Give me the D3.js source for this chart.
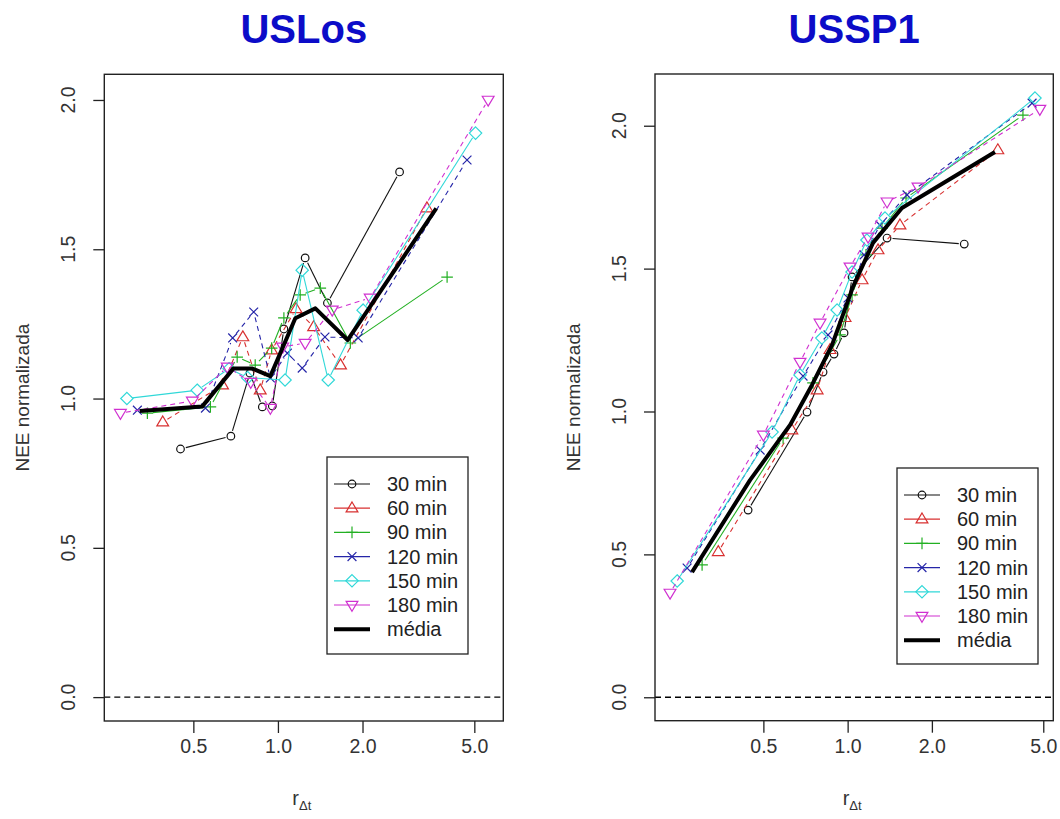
<!DOCTYPE html>
<html><head><meta charset="utf-8">
<script src="https://cdn.jsdelivr.net/npm/d3@7"></script>
<style>body{margin:0;background:#fff}svg{font-family:"Liberation Sans",Arial,sans-serif}</style>
</head><body><svg id="c" width="1060" height="819"></svg>
<script>
// ---------- labels / ticks ----------
const seriesLabels = ["30 min","60 min","90 min","120 min","150 min","180 min"];
const meanLabel = "média";
const panelTitles = ["USLos","USSP1"];
const yAxisTitle = "NEE normalizada";
const xTicks = [0.5, 1, 2, 5];
const xTickLabels = ["0.5","1.0","2.0","5.0"];
const yTicks = [0, 0.5, 1, 1.5, 2];
const yTickLabels = ["0.0","0.5","1.0","1.5","2.0"];

// ---------- USLos data ----------
const uslos_r30  = [0.45, 0.68, 0.795, 0.88, 0.955, 1.05, 1.25, 1.50, 2.71];
const uslos_n30  = [0.831, 0.874, 1.085, 0.972, 0.975, 1.233, 1.471, 1.32, 1.759];
const uslos_r60  = [0.389, 0.635, 0.75, 0.865, 0.95, 1.16, 1.34, 1.67, 3.39];
const uslos_n60  = [0.921, 1.045, 1.206, 1.028, 1.162, 1.30, 1.24, 1.112, 1.638];
const uslos_r90  = [0.343, 0.575, 0.716, 0.83, 0.95, 1.05, 1.20, 1.415, 1.81, 4.0];
const uslos_n90  = [0.951, 0.972, 1.139, 1.112, 1.169, 1.27, 1.347, 1.37, 1.186, 1.407];
const uslos_r120 = [0.316, 0.552, 0.69, 0.82, 0.94, 1.08, 1.22, 1.47, 1.93, 4.71];
const uslos_n120 = [0.961, 0.968, 1.203, 1.29, 1.069, 1.152, 1.102, 1.206, 1.203, 1.799];
const uslos_r150 = [0.29, 0.516, 0.67, 0.78, 1.06, 1.22, 1.51, 2.01, 5.05];
const uslos_n150 = [1.0, 1.028, 1.10, 1.07, 1.062, 1.43, 1.062, 1.296, 1.889];
const uslos_r180 = [0.275, 0.496, 0.66, 0.80, 0.94, 1.04, 1.25, 1.56, 2.13, 5.6];
const uslos_n180 = [0.951, 0.992, 1.106, 1.055, 0.968, 1.173, 1.186, 1.297, 1.337, 2.0];
const uslos_rMean = [0.322, 0.537, 0.695, 0.809, 0.94, 1.153, 1.359, 1.77, 3.66];
const uslos_nMean = [0.958, 0.973, 1.101, 1.101, 1.075, 1.269, 1.302, 1.196, 1.637];

// ---------- USSP1 data ----------
const ussp_r30  = [0.441, 0.716, 0.817, 0.894, 0.971, 1.037, 1.383, 2.61];
const ussp_n30  = [0.655, 0.998, 1.138, 1.201, 1.275, 1.471, 1.607, 1.586];
const ussp_r60  = [0.345, 0.632, 0.778, 0.865, 0.979, 1.126, 1.284, 1.538, 3.44];
const ussp_n60  = [0.509, 0.935, 1.075, 1.216, 1.328, 1.46, 1.565, 1.652, 1.915];
const ussp_r90  = [0.302, 0.588, 0.752, 0.939, 1.037, 1.163, 1.327, 1.617, 4.23];
const ussp_n90  = [0.463, 0.907, 1.10, 1.268, 1.408, 1.548, 1.642, 1.747, 2.037];
const ussp_r120 = [0.267, 0.487, 0.693, 0.851, 1.003, 1.145, 1.305, 1.63, 4.56];
const ussp_n120 = [0.452, 0.865, 1.124, 1.268, 1.397, 1.548, 1.652, 1.758, 2.079];
const ussp_r150 = [0.246, 0.537, 0.676, 0.809, 0.917, 1.037, 1.172, 1.36, 4.67];
const ussp_n150 = [0.407, 0.928, 1.128, 1.257, 1.355, 1.488, 1.60, 1.677, 2.097];
const ussp_r180 = [0.232, 0.50, 0.676, 0.797, 1.02, 1.183, 1.383, 1.784, 4.86];
const ussp_n180 = [0.365, 0.918, 1.173, 1.31, 1.506, 1.611, 1.734, 1.786, 2.058];
const ussp_rMean = [0.278, 0.448, 0.623, 0.746, 0.88, 1.045, 1.232, 1.563, 3.36];
const ussp_nMean = [0.438, 0.760, 0.953, 1.093, 1.233, 1.436, 1.590, 1.712, 1.908];

// ---------- styles ----------
const seriesColors = ["#111111", "#d83030", "#22b022", "#2525a8", "#30d8d8", "#d030d0"];
const seriesDash = [null, "5,4", null, "5,4", null, "5,4"];
const seriesSymbols = ["circle", "triUp", "plus", "cross", "diamond", "triDown"];

const panels = [
  { title: panelTitles[0], box: [104.3, 74.3, 503.3, 721], xDom: [0.241, 6.34], yDom: [-0.080, 2.086],
    r: [uslos_r30, uslos_r60, uslos_r90, uslos_r120, uslos_r150, uslos_r180],
    n: [uslos_n30, uslos_n60, uslos_n90, uslos_n120, uslos_n150, uslos_n180],
    rMean: uslos_rMean, nMean: uslos_nMean,
    legend: [327, 457, 141, 197], ylabX: 68, ytitleX: 22 },
  { title: panelTitles[1], box: [655, 74, 1053.3, 720.7], xDom: [0.205, 5.43], yDom: [-0.082, 2.181],
    r: [ussp_r30, ussp_r60, ussp_r90, ussp_r120, ussp_r150, ussp_r180],
    n: [ussp_n30, ussp_n60, ussp_n90, ussp_n120, ussp_n150, ussp_n180],
    rMean: ussp_rMean, nMean: ussp_nMean,
    legend: [897, 468, 141, 196], ylabX: 619, ytitleX: 573 }
];

const svg = d3.select("#c");

function symbol(g, type, x, y, color) {
  const sw = 1.2;
  if (type === "circle") {
    g.append("circle").attr("cx", x).attr("cy", y).attr("r", 3.8)
      .attr("fill", "none").attr("stroke", color).attr("stroke-width", sw);
  } else if (type === "triUp") {
    const s = 6.2;
    g.append("path").attr("d", `M${x},${y - s}L${x + s * 0.95},${y + s * 0.6}L${x - s * 0.95},${y + s * 0.6}Z`)
      .attr("fill", "none").attr("stroke", color).attr("stroke-width", sw);
  } else if (type === "triDown") {
    const s = 6.2;
    g.append("path").attr("d", `M${x},${y + s}L${x + s * 0.95},${y - s * 0.6}L${x - s * 0.95},${y - s * 0.6}Z`)
      .attr("fill", "none").attr("stroke", color).attr("stroke-width", sw);
  } else if (type === "plus") {
    const s = 5.8;
    g.append("path").attr("d", `M${x - s},${y}H${x + s}M${x},${y - s}V${y + s}`)
      .attr("fill", "none").attr("stroke", color).attr("stroke-width", sw);
  } else if (type === "cross") {
    const s = 4.4;
    g.append("path").attr("d", `M${x - s},${y - s}L${x + s},${y + s}M${x - s},${y + s}L${x + s},${y - s}`)
      .attr("fill", "none").attr("stroke", color).attr("stroke-width", sw);
  } else if (type === "diamond") {
    const s = 6.2;
    g.append("path").attr("d", `M${x},${y - s}L${x + s},${y}L${x},${y + s}L${x - s},${y}Z`)
      .attr("fill", "none").attr("stroke", color).attr("stroke-width", sw);
  }
}

panels.forEach(p => {
  const [x0, y0, x1, y1] = p.box;
  const x = d3.scaleLog().domain(p.xDom).range([x0, x1]);
  const y = d3.scaleLinear().domain(p.yDom).range([y1, y0]);
  const g = svg.append("g");

  // title
  svg.append("text").attr("x", (x0 + x1) / 2).attr("y", 43).attr("text-anchor", "middle")
    .attr("font-size", 40).attr("font-weight", "bold").attr("fill", "#0c0cc8").text(p.title);

  // zero dashed line
  g.append("line").attr("x1", x0).attr("x2", x1).attr("y1", y(0)).attr("y2", y(0))
    .attr("stroke", "#000").attr("stroke-width", 1.3).attr("stroke-dasharray", "6,4");

  // series (type = "b": lines with gaps around points)
  const gap = 5.5;
  p.r.forEach((rs, i) => {
    const pts = rs.map((v, k) => [x(v), y(p.n[i][k])]);
    const sg = g.append("g");
    for (let k = 0; k < pts.length - 1; k++) {
      const [ax, ay] = pts[k], [bx, by] = pts[k + 1];
      const L = Math.hypot(bx - ax, by - ay);
      if (L <= 2 * gap) continue;
      const ux = (bx - ax) / L, uy = (by - ay) / L;
      sg.append("line").attr("x1", ax + ux * gap).attr("y1", ay + uy * gap)
        .attr("x2", bx - ux * gap).attr("y2", by - uy * gap)
        .attr("stroke", seriesColors[i]).attr("stroke-width", 1.1)
        .attr("stroke-dasharray", seriesDash[i]);
    }
    pts.forEach(([px, py]) => symbol(sg, seriesSymbols[i], px, py, seriesColors[i]));
  });

  // mean
  g.append("path")
    .attr("d", d3.line()(p.rMean.map((v, k) => [x(v), y(p.nMean[k])])))
    .attr("fill", "none").attr("stroke", "#000").attr("stroke-width", 4).attr("stroke-linejoin", "round");

  // box
  g.append("rect").attr("x", x0).attr("y", y0).attr("width", x1 - x0).attr("height", y1 - y0)
    .attr("fill", "none").attr("stroke", "#222").attr("stroke-width", 1.4);

  // x axis
  const xa = svg.append("g").attr("transform", `translate(0,${y1})`)
    .call(d3.axisBottom(x).tickValues(xTicks).tickSize(12).tickPadding(6)
      .tickFormat((d, i) => xTickLabels[i]));
  xa.select(".domain").remove();
  xa.selectAll("line").attr("stroke", "#222").attr("stroke-width", 1.3);
  xa.selectAll("text").attr("font-size", 19.5).attr("fill", "#333")
    .attr("font-family", "'Liberation Sans', Arial, sans-serif");

  // y axis
  const ya = svg.append("g").attr("transform", `translate(${x0},0)`)
    .call(d3.axisLeft(y).tickValues(yTicks).tickSize(11).tickFormat(""));
  ya.select(".domain").remove();
  ya.selectAll("line").attr("stroke", "#222").attr("stroke-width", 1.3);
  yTicks.forEach((t, i) => {
    svg.append("text").attr("transform", `translate(${p.ylabX},${y(t)}) rotate(-90)`)
      .attr("text-anchor", "middle").attr("dy", "0.36em").attr("font-size", 19.5).attr("fill", "#333")
      .text(yTickLabels[i]);
  });

  // axis titles
  svg.append("text").attr("transform", `translate(${p.ytitleX},${(y0 + y1) / 2}) rotate(-90)`)
    .attr("text-anchor", "middle").attr("dy", "0.36em").attr("font-size", 19).attr("fill", "#333")
    .text(yAxisTitle);
  const xt = svg.append("text").attr("x", (x0 + x1) / 2 - 2).attr("y", 805).attr("text-anchor", "middle")
    .attr("fill", "#333");
  xt.append("tspan").attr("font-size", 20).text("r");
  xt.append("tspan").attr("font-size", 13).attr("dy", 5).text("Δt");

  // legend
  const [lx, ly, lw, lh] = p.legend;
  const lg = svg.append("g");
  lg.append("rect").attr("x", lx).attr("y", ly).attr("width", lw).attr("height", lh)
    .attr("fill", "#fff").attr("stroke", "#222").attr("stroke-width", 1.3);
  const rowH = 24.2;
  const labels = seriesLabels.concat([meanLabel]);
  labels.forEach((lab, i) => {
    const ry = ly + 27 + i * rowH;
    const isMean = i === 6;
    lg.append("line").attr("x1", lx + 7).attr("x2", lx + 43).attr("y1", ry).attr("y2", ry)
      .attr("stroke", isMean ? "#000" : seriesColors[i]).attr("stroke-width", isMean ? 4 : 1.2);
    if (!isMean) symbol(lg, seriesSymbols[i], lx + 25, ry, seriesColors[i]);
    lg.append("text").attr("x", lx + 60).attr("y", ry).attr("dy", "0.35em")
      .attr("font-size", 20).attr("fill", "#222").text(lab);
  });
});
</script>
</body></html>
